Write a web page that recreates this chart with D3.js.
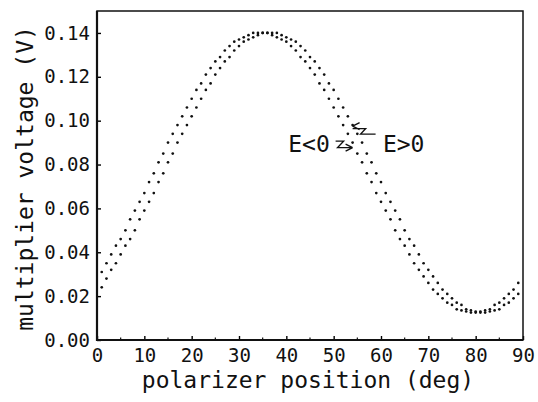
<!DOCTYPE html>
<html>
<head>
<meta charset="utf-8">
<script src="https://cdn.jsdelivr.net/npm/d3@7.9.0/dist/d3.min.js"></script>
<style>
  html, body { margin: 0; padding: 0; background: #fff; }
  svg { display: block; }
  text { font-family: "DejaVu Sans Mono", "Liberation Mono", monospace; fill: #111; }
</style>
</head>
<body>
<svg id="chart" width="538" height="402"></svg>
<script>
// polarizer angle in degrees, one reading per degree
const angles = d3.range(1, 90);

// E<0 series (runs slightly ahead)
const voltsNeg = [
  0.031, 0.035, 0.039, 0.043, 0.046, 0.050, 0.055, 0.059, 0.063, 0.067,
  0.072, 0.076, 0.081, 0.085, 0.090, 0.094, 0.098, 0.102, 0.106, 0.110,
  0.114, 0.117, 0.121, 0.124, 0.127, 0.129, 0.132, 0.134, 0.136, 0.137,
  0.138, 0.139, 0.140, 0.140, 0.140, 0.140, 0.139, 0.138, 0.137, 0.136,
  0.134, 0.132, 0.129, 0.127, 0.124, 0.121, 0.117, 0.114, 0.110, 0.106,
  0.102, 0.098, 0.094, 0.090, 0.085, 0.081, 0.076, 0.072, 0.067, 0.063,
  0.059, 0.055, 0.050, 0.046, 0.043, 0.039, 0.035, 0.032, 0.029, 0.026,
  0.023, 0.021, 0.019, 0.017, 0.016, 0.014, 0.0135, 0.013, 0.0125, 0.0125,
  0.013, 0.0135, 0.014, 0.016, 0.017, 0.019, 0.021, 0.023, 0.026
];

// E>0 series
const voltsPos = [
  0.024, 0.028, 0.032, 0.035, 0.039, 0.043, 0.046, 0.050, 0.055, 0.059,
  0.063, 0.067, 0.072, 0.076, 0.081, 0.085, 0.090, 0.094, 0.098, 0.102,
  0.106, 0.110, 0.114, 0.117, 0.121, 0.124, 0.127, 0.129, 0.132, 0.134,
  0.136, 0.137, 0.138, 0.139, 0.140, 0.140, 0.140, 0.140, 0.139, 0.138,
  0.137, 0.136, 0.134, 0.132, 0.129, 0.127, 0.124, 0.121, 0.117, 0.114,
  0.110, 0.106, 0.102, 0.098, 0.094, 0.090, 0.085, 0.081, 0.076, 0.072,
  0.067, 0.063, 0.059, 0.055, 0.050, 0.046, 0.043, 0.039, 0.035, 0.032,
  0.029, 0.026, 0.023, 0.021, 0.019, 0.017, 0.016, 0.014, 0.0135, 0.013,
  0.0125, 0.0125, 0.013, 0.0135, 0.014, 0.016, 0.017, 0.019, 0.021
];

const xTicks = [0, 10, 20, 30, 40, 50, 60, 70, 80, 90];
const xMinorTicks = [5, 15, 25, 35, 45, 55, 65, 75, 85];
const yTicks = [0, 0.02, 0.04, 0.06, 0.08, 0.10, 0.12, 0.14];

// labels and where their arrows point (data units)
const notes = [
  { label: 'E<0', at: [40.4, 0.0855], anchor: 'start', tip: [54.0, 0.0877] },
  { label: 'E>0', at: [60.4, 0.0855], anchor: 'start', tip: [54.0, 0.0975] }
];

const svg = d3.select('#chart');
const margin = { top: 11, right: 15, bottom: 62, left: 97 };
const width = 538 - margin.left - margin.right;
const height = 402 - margin.top - margin.bottom;

const x = d3.scaleLinear().domain([0, 90]).range([0, width]);
const y = d3.scaleLinear().domain([0, 0.15]).range([height, 0]);

const g = svg.append('g').attr('transform', `translate(${margin.left},${margin.top})`);

// bottom axis, ticks point inward
const xAxis = g.append('g')
  .attr('transform', `translate(0,${height})`)
  .call(d3.axisBottom(x).tickValues(xTicks).tickSize(-4).tickSizeOuter(0).tickPadding(9));
xAxis.select('.domain').remove();
xAxis.selectAll('text').attr('font-size', 19).attr('font-family', null);
xAxis.selectAll('line').attr('stroke-width', 1.4);

g.append('g')
  .selectAll('line')
  .data(xMinorTicks)
  .join('line')
  .attr('x1', d => x(d)).attr('x2', d => x(d))
  .attr('y1', height).attr('y2', height - 2.5)
  .attr('stroke', '#111').attr('stroke-width', 1.2);

const yAxis = g.append('g')
  .call(d3.axisLeft(y).tickValues(yTicks).tickFormat(d3.format('.2f')).tickSize(-4).tickSizeOuter(0).tickPadding(7));
yAxis.select('.domain').remove();
yAxis.selectAll('text').attr('font-size', 19).attr('font-family', null);
yAxis.selectAll('line').attr('stroke-width', 1.4);

// frame
g.append('rect')
  .attr('width', width).attr('height', height)
  .attr('fill', 'none').attr('stroke', '#111').attr('stroke-width', 1.5);
g.append('path')
  .attr('d', `M0,0V${height}H${width}`)
  .attr('fill', 'none').attr('stroke', '#111').attr('stroke-width', 2.2);

// the two dotted runs
[voltsNeg, voltsPos].forEach(vals => {
  g.append('g')
    .selectAll('circle')
    .data(angles.map((a, i) => [a, vals[i]]))
    .join('circle')
    .attr('cx', d => x(d[0]))
    .attr('cy', d => y(d[1]))
    .attr('r', 1.35)
    .attr('fill', '#111');
});

// annotations with zigzag arrows
const noteG = g.append('g');
notes.forEach((n, i) => {
  noteG.append('text')
    .attr('x', x(n.at[0])).attr('y', y(n.at[1]))
    .attr('font-size', 23)
    .attr('text-anchor', n.anchor)
    .text(n.label);

  const tx = x(n.tip[0]), ty = y(n.tip[1]);
  let d;
  if (i === 0) {
    // from the right of "E<0" going right
    d = `M${tx - 17},${ty - 6.5}h8l-6,6.5h15`;
    d += `M${tx},${ty}l-7,-3.5M${tx},${ty}l-7,3.5`;
  } else {
    // from the left of "E>0" going left
    d = `M${tx + 23},${ty + 8}h-15l5,-5.5h-13`;
    d += `M${tx},${ty}l7,-3.5M${tx},${ty}l7,3.5`;
  }
  noteG.append('path')
    .attr('d', d)
    .attr('fill', 'none')
    .attr('stroke', '#111')
    .attr('stroke-width', 1.4);
});

// axis titles
svg.append('text')
  .attr('x', margin.left + width / 2 - 2)
  .attr('y', 388)
  .attr('font-size', 23)
  .attr('text-anchor', 'middle')
  .text('polarizer position (deg)');

svg.append('text')
  .attr('transform', `translate(33,${margin.top + height / 2 + 3}) rotate(-90)`)
  .attr('font-size', 23)
  .attr('text-anchor', 'middle')
  .text('multiplier voltage (V)');
</script>
</body>
</html>
